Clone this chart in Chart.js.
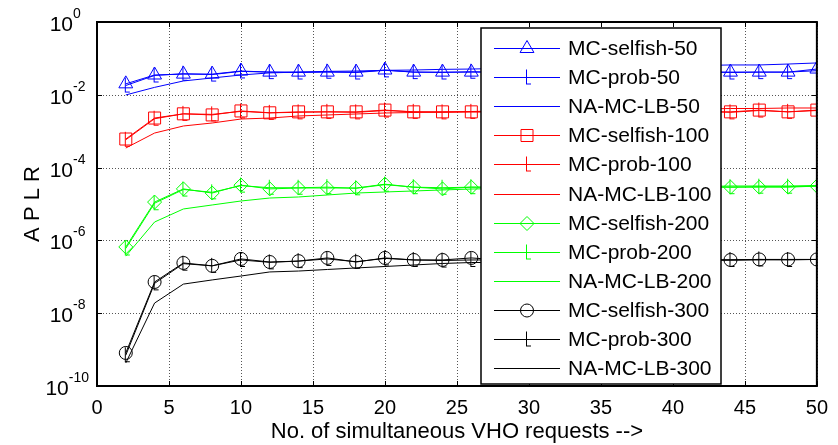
<!DOCTYPE html>
<html>
<head>
<meta charset="utf-8">
<script src="https://cdn.jsdelivr.net/npm/chart.js@4/dist/chart.umd.min.js"></script>
<style>
  body { margin: 0; background: #fff; }
  #wrap { width: 838px; height: 445px; }
</style>
</head>
<body>
<div id="wrap"><canvas id="chart" width="838" height="445"></canvas></div>
<script>
// x 軸：同時 VHO 請求數
const requests = [2, 4, 6, 8, 10, 12, 14, 16, 18, 20, 22, 24, 26, 28, 30, 32, 34, 36, 38, 40, 42, 44, 46, 48, 50];

// N = 50
const selfish50 = [0.020, 0.035, 0.037, 0.037, 0.045, 0.042, 0.042, 0.042, 0.042, 0.048, 0.042, 0.042, 0.042, 0.042, 0.045, 0.042, 0.042, 0.045, 0.042, 0.042, 0.042, 0.042, 0.042, 0.042, 0.051];
const prob50 = [0.018, 0.034, 0.038, 0.036, 0.044, 0.042, 0.041, 0.043, 0.041, 0.047, 0.042, 0.041, 0.043, 0.042, 0.044, 0.042, 0.043, 0.044, 0.042, 0.042, 0.043, 0.041, 0.042, 0.042, 0.046];
const lb50 = [0.0099, 0.016, 0.024, 0.029, 0.035, 0.040, 0.042, 0.044, 0.045, 0.047, 0.048, 0.050, 0.051, 0.053, 0.055, 0.056, 0.058, 0.060, 0.062, 0.062, 0.064, 0.066, 0.066, 0.070, 0.075];

// N = 100
const selfish100 = [6.1e-4, 2.3e-3, 3.0e-3, 2.8e-3, 3.6e-3, 3.2e-3, 3.4e-3, 3.4e-3, 3.4e-3, 3.8e-3, 3.4e-3, 3.4e-3, 3.4e-3, 3.4e-3, 3.6e-3, 3.4e-3, 3.4e-3, 3.6e-3, 3.4e-3, 3.4e-3, 3.4e-3, 3.4e-3, 3.8e-3, 3.4e-3, 3.8e-3];
const prob100 = [5.8e-4, 2.2e-3, 3.0e-3, 2.9e-3, 3.5e-3, 3.2e-3, 3.3e-3, 3.4e-3, 3.3e-3, 3.7e-3, 3.4e-3, 3.3e-3, 3.4e-3, 3.4e-3, 3.5e-3, 3.4e-3, 3.5e-3, 3.6e-3, 3.5e-3, 3.4e-3, 3.5e-3, 3.3e-3, 3.7e-3, 3.4e-3, 3.7e-3];
const lb100 = [3.45e-4, 8.9e-4, 1.39e-3, 1.68e-3, 2.16e-3, 2.3e-3, 2.62e-3, 2.79e-3, 2.97e-3, 3.16e-3, 3.27e-3, 3.37e-3, 3.48e-3, 3.59e-3, 3.7e-3, 3.82e-3, 3.82e-3, 3.95e-3, 3.95e-3, 4.07e-3, 4.07e-3, 4.2e-3, 4.2e-3, 4.34e-3, 4.34e-3];

// N = 200
const selfish200 = [6.6e-7, 1.13e-5, 2.6e-5, 2.0e-5, 3.3e-5, 2.6e-5, 2.75e-5, 2.75e-5, 2.75e-5, 3.5e-5, 2.9e-5, 2.6e-5, 2.9e-5, 2.9e-5, 3.1e-5, 2.9e-5, 2.9e-5, 3.2e-5, 2.9e-5, 2.9e-5, 2.9e-5, 2.9e-5, 2.9e-5, 2.9e-5, 3.1e-5];
const prob200 = [6.0e-7, 1.05e-5, 2.5e-5, 2.1e-5, 3.2e-5, 2.8e-5, 2.8e-5, 2.9e-5, 2.7e-5, 3.4e-5, 2.9e-5, 2.8e-5, 2.9e-5, 2.9e-5, 3.0e-5, 2.9e-5, 3.0e-5, 3.1e-5, 3.0e-5, 3.0e-5, 3.0e-5, 2.9e-5, 3.0e-5, 3.0e-5, 3.1e-5];
const lb200 = [3.7e-7, 3.2e-6, 7.3e-6, 9.4e-6, 1.21e-5, 1.46e-5, 1.56e-5, 1.77e-5, 2.0e-5, 2.14e-5, 2.28e-5, 2.43e-5, 2.58e-5, 2.67e-5, 2.75e-5, 2.75e-5, 2.84e-5, 2.84e-5, 2.93e-5, 2.93e-5, 3.03e-5, 3.12e-5, 3.12e-5, 3.12e-5, 3.22e-5];

// N = 300
const selfish300 = [8.1e-10, 7.2e-8, 2.4e-7, 2.0e-7, 3.1e-7, 2.55e-7, 2.7e-7, 3.3e-7, 2.55e-7, 3.3e-7, 2.9e-7, 2.9e-7, 3.3e-7, 2.9e-7, 3.1e-7, 2.9e-7, 2.9e-7, 3.1e-7, 2.9e-7, 2.9e-7, 2.9e-7, 2.9e-7, 3.0e-7, 3.0e-7, 3.0e-7];
const prob300 = [7.0e-10, 6.6e-8, 2.3e-7, 2.0e-7, 2.9e-7, 2.5e-7, 2.7e-7, 3.1e-7, 2.6e-7, 3.2e-7, 2.9e-7, 2.8e-7, 2.9e-7, 2.9e-7, 3.0e-7, 2.9e-7, 3.0e-7, 3.0e-7, 3.0e-7, 2.9e-7, 2.9e-7, 2.9e-7, 3.0e-7, 2.9e-7, 3.0e-7];
const lb300 = [4.3e-10, 1.9e-8, 6.3e-8, 8.2e-8, 1.05e-7, 1.36e-7, 1.44e-7, 1.59e-7, 1.75e-7, 1.92e-7, 2.11e-7, 2.32e-7, 2.47e-7, 2.47e-7, 2.55e-7, 2.55e-7, 2.63e-7, 2.72e-7, 2.72e-7, 2.81e-7, 2.81e-7, 2.9e-7, 2.9e-7, 2.99e-7, 2.99e-7];

// 刻度
const xTicks = [0, 5, 10, 15, 20, 25, 30, 35, 40, 45, 50];
const yTicks = [1e-10, 1e-8, 1e-6, 1e-4, 1e-2, 1];
const yTickExponents = ['-10', '-8', '-6', '-4', '-2', '0'];

const FONT = '"Liberation Sans", Arial, sans-serif';
Chart.defaults.font.family = FONT;
Chart.defaults.color = '#000';

// MC-prob 的標記：豎線加右下小橫
function makeProbMarker(color) {
    const c = document.createElement('canvas');
    c.width = 12;
    c.height = 18;
    const g = c.getContext('2d');
    g.strokeStyle = color;
    g.lineWidth = 1;
    g.beginPath();
    g.moveTo(5.5, 1);
    g.lineTo(5.5, 16);
    g.moveTo(6, 15.5);
    g.lineTo(10, 15.5);
    g.stroke();
    return c;
}

function series(label, values, color, marker, radius) {
    return {
        label: label,
        data: requests.map((x, i) => ({ x: x, y: values[i] })),
        borderColor: color,
        backgroundColor: 'transparent',
        borderWidth: 1,
        pointStyle: marker,
        pointRadius: marker ? radius : 0,
        pointBorderWidth: 1,
        pointBorderColor: color,
        pointBackgroundColor: 'transparent',
        tension: 0
    };
}

const blue = '#0000ff', red = '#ff0000', green = '#00ff00', black = '#000000';

const datasets = [
    series('MC-selfish-50', selfish50, blue, 'triangle', 8),
    series('MC-prob-50', prob50, blue, makeProbMarker(blue), 6),
    series('NA-MC-LB-50', lb50, blue, false, 0),
    series('MC-selfish-100', selfish100, red, 'rect', 8.5),
    series('MC-prob-100', prob100, red, makeProbMarker(red), 6),
    series('NA-MC-LB-100', lb100, red, false, 0),
    series('MC-selfish-200', selfish200, green, 'rectRot', 7),
    series('MC-prob-200', prob200, green, makeProbMarker(green), 6),
    series('NA-MC-LB-200', lb200, green, false, 0),
    series('MC-selfish-300', selfish300, black, 'circle', 6.5),
    series('MC-prob-300', prob300, black, makeProbMarker(black), 6),
    series('NA-MC-LB-300', lb300, black, false, 0)
];

// 虛線格線（在資料線之下）
const gridPlugin = {
    id: 'dottedGrid',
    beforeDatasetsDraw(chart) {
        const { ctx, chartArea: a, scales } = chart;
        ctx.save();
        ctx.strokeStyle = '#555';
        ctx.lineWidth = 1;
        ctx.setLineDash([1, 2]);
        xTicks.forEach(v => {
            const px = Math.round(scales.x.getPixelForValue(v)) + 0.5;
            ctx.beginPath();
            ctx.moveTo(px, a.top);
            ctx.lineTo(px, a.bottom);
            ctx.stroke();
        });
        yTicks.forEach(v => {
            const py = Math.round(scales.y.getPixelForValue(v)) + 0.5;
            ctx.beginPath();
            ctx.moveTo(a.left, py);
            ctx.lineTo(a.right, py);
            ctx.stroke();
        });
        ctx.restore();
    }
};

// 外框、向內的刻度線與 y 軸 10 的次方標籤
const boxPlugin = {
    id: 'box',
    afterDatasetsDraw(chart) {
        const { ctx, chartArea: a, scales } = chart;
        ctx.save();
        ctx.strokeStyle = '#000';
        ctx.lineWidth = 1;
        xTicks.forEach(v => {
            const px = Math.round(scales.x.getPixelForValue(v)) + 0.5;
            ctx.beginPath();
            ctx.moveTo(px, a.bottom); ctx.lineTo(px, a.bottom - 5);
            ctx.moveTo(px, a.top); ctx.lineTo(px, a.top + 5);
            ctx.stroke();
        });
        yTicks.forEach((v, i) => {
            const py = Math.round(scales.y.getPixelForValue(v)) + 0.5;
            ctx.beginPath();
            ctx.moveTo(a.left, py); ctx.lineTo(a.left + 5, py);
            ctx.moveTo(a.right, py); ctx.lineTo(a.right - 5, py);
            ctx.stroke();

            // 10^n 標籤
            const exp = yTickExponents[i];
            ctx.fillStyle = '#000';
            ctx.font = '14px ' + FONT;
            const expW = ctx.measureText(exp).width;
            const endX = Math.min(73 + expW, 89);
            ctx.textAlign = 'left';
            ctx.textBaseline = 'alphabetic';
            ctx.fillText(exp, endX - expW, py - 5);
            ctx.font = '21px ' + FONT;
            ctx.textAlign = 'right';
            ctx.fillText('10', endX - expW, py + 8);
        });
        ctx.lineWidth = 2;
        ctx.strokeRect(a.left, a.top, a.right - a.left, a.bottom - a.top);
        ctx.restore();
    }
};

// 圖例：畫在繪圖區內右側的方框
const legendPlugin = {
    id: 'boxLegend',
    afterDraw(chart) {
        const ctx = chart.ctx;
        const left = 481, top = 28, right = 721, bottom = 384;
        ctx.save();
        ctx.fillStyle = '#fff';
        ctx.fillRect(left, top, right - left, bottom - top);
        ctx.strokeStyle = '#000';
        ctx.lineWidth = 1.5;
        ctx.strokeRect(left, top, right - left, bottom - top);
        chart.data.datasets.forEach((ds, i) => {
            const y = Math.round(top + 20 + i * 29.1) + 0.5;
            ctx.strokeStyle = ds.borderColor;
            ctx.lineWidth = 1;
            ctx.beginPath();
            ctx.moveTo(494, y);
            ctx.lineTo(560, y);
            ctx.stroke();
            if (ds.pointRadius > 0) {
                ctx.fillStyle = 'rgba(0,0,0,0)';
                Chart.helpers.drawPoint(ctx, {
                    pointStyle: ds.pointStyle,
                    radius: ds.pointRadius,
                    borderWidth: 1,
                    rotation: 0
                }, 527, y);
            }
            ctx.fillStyle = '#000';
            ctx.font = '21px ' + FONT;
            ctx.textBaseline = 'middle';
            ctx.textAlign = 'left';
            ctx.fillText(ds.label, 568, y + 1);
        });
        ctx.restore();
    }
};

new Chart(document.getElementById('chart'), {
    type: 'line',
    data: { datasets: datasets },
    plugins: [gridPlugin, boxPlugin, legendPlugin],
    options: {
        responsive: false,
        animation: false,
        layout: { padding: { top: 22, right: 13, left: 0, bottom: 0 } },
        plugins: {
            legend: { display: false },
            tooltip: { enabled: false }
        },
        scales: {
            x: {
                type: 'linear',
                min: 0,
                max: 50,
                afterBuildTicks: axis => { axis.ticks = xTicks.map(v => ({ value: v })); },
                afterFit: axis => { axis.height = 59; },
                ticks: { font: { size: 20 }, padding: 10, maxRotation: 0 },
                grid: { display: false, drawTicks: false },
                border: { display: false },
                title: {
                    display: true,
                    text: 'No. of simultaneous VHO requests -->',
                    font: { size: 22 },
                    padding: { top: 0, bottom: 0 }
                }
            },
            y: {
                type: 'logarithmic',
                min: 1e-10,
                max: 1,
                afterBuildTicks: axis => { axis.ticks = yTicks.map(v => ({ value: v })); },
                afterFit: axis => { axis.width = 97; },
                ticks: { display: false },
                grid: { display: false, drawTicks: false },
                border: { display: false },
                title: {
                    display: true,
                    text: 'A P L R',
                    font: { size: 22 },
                    padding: { top: 20, bottom: 0 }
                }
            }
        }
    }
});
</script>
</body>
</html>
